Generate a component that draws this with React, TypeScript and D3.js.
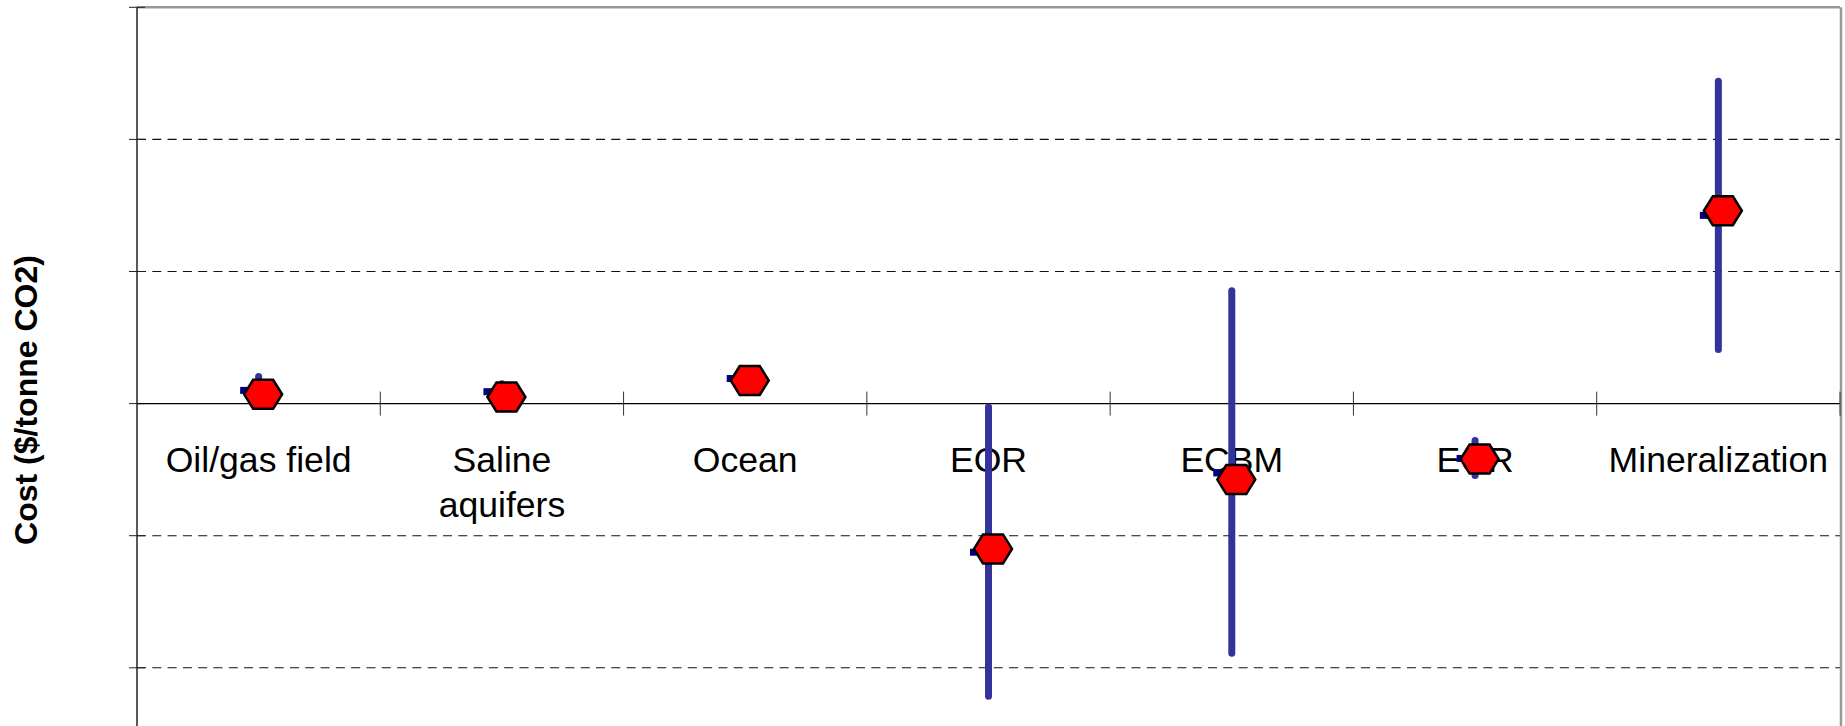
import React from 'react';
import * as d3 from 'd3';

// categories along the zero line
const categories = ['Oil/gas field', 'Saline\naquifers', 'Ocean', 'EOR', 'ECBM', 'EGR', 'Mineralization'];
// range ends of each option (error bar)
const highValues = [4.1, 3.0, 3.9, -0.5, 17.1, -5.6, 48.8];
const lowValues = [0.5, 0.4, 3.2, -44.3, -37.8, -10.9, 8.2];
// hexagon marker value
const midValues = [1.4, 1.0, 3.5, -22.0, -11.5, -8.4, 29.2];
// small dash value drawn left of the marker
const dashValues = [2.0, 1.8, 3.8, -22.5, -10.5, -8.3, 28.5];
// y gridlines (no labels shown)
const yTicks = [-60, -40, -20, 0, 20, 40, 60];

const W = 1845;
const H = 810;
const FONT = '"Liberation Sans", Arial, Helvetica, sans-serif';

export default function App() {
  const x = d3.scaleBand<string>().domain(categories).range([137, 1840]).padding(0);
  const y = d3.scaleLinear().domain([-60, 60]).range([799.9, 7.3]);
  const x0 = 137;
  const x1 = 1840;
  const y0 = y(0);

  const hex = (cx: number, cy: number) => {
    const hw = 19, tw = 10, hh = 14.5;
    return `M${cx - hw},${cy}L${cx - tw},${cy - hh}L${cx + tw},${cy - hh}L${cx + hw},${cy}L${cx + tw},${cy + hh}L${cx - tw},${cy + hh}Z`;
  };

  const boundaries = categories.map((c) => x(c)!).concat([x1]);

  return (
    <svg width={W} height={H} style={{ position: 'absolute', left: 0, top: 0, background: '#fff' }}>
      {/* gridlines */}
      {yTicks.filter((t) => t !== 0 && t !== 60).map((t) => (
        <line key={t} x1={x0} x2={x1} y1={y(t)} y2={y(t)} stroke="#111" strokeWidth={1.1} strokeDasharray="9,6.3" />
      ))}
      {/* top and right border */}
      <line x1={x0} x2={x1} y1={y(60)} y2={y(60)} stroke="#999" strokeWidth={2.5} />
      <line x1={x1 + 1} x2={x1 + 1} y1={y(60)} y2={H} stroke="#999" strokeWidth={2.5} />
      {/* y axis */}
      <line x1={x0} x2={x0} y1={y(60)} y2={H} stroke="#222" strokeWidth={1.5} />
      {yTicks.map((t) => (
        <line key={'yt' + t} x1={x0 - 8} x2={x0 + 8} y1={y(t)} y2={y(t)} stroke="#222" strokeWidth={1} />
      ))}
      {/* zero line + category ticks */}
      <line x1={x0} x2={x1} y1={y0} y2={y0} stroke="#000" strokeWidth={1.2} />
      {boundaries.slice(1).map((bx, i) => (
        <line key={'xt' + i} x1={bx} x2={bx} y1={y0 - 12} y2={y0 + 12} stroke="#333" strokeWidth={1} />
      ))}
      {/* category labels */}
      {categories.map((c) => {
        const lines = c.split('\n');
        const cx = x(c)! + x.bandwidth() / 2;
        return (
          <text key={c} x={cx} y={472} textAnchor="middle" fontFamily={FONT} fontSize={35.6} fill="#000">
            {lines.map((l, i) => (
              <tspan key={i} x={cx} dy={i === 0 ? 0 : 45}>{l}</tspan>
            ))}
          </text>
        );
      })}
      {/* range bars */}
      {categories.map((c, i) => {
        const cx = x(c)! + x.bandwidth() / 2;
        return (
          <line key={'bar' + c} x1={cx} x2={cx} y1={y(highValues[i])} y2={y(lowValues[i])}
            stroke="#333399" strokeWidth={7} strokeLinecap="round" />
        );
      })}
      {/* dash marks */}
      {categories.map((c, i) => {
        const cx = x(c)! + x.bandwidth() / 2;
        return (
          <rect key={'dash' + c} x={cx - 18.5} y={y(dashValues[i]) - 3.5} width={14} height={7} fill="#000080" />
        );
      })}
      {/* hexagon markers */}
      {categories.map((c, i) => {
        const cx = x(c)! + x.bandwidth() / 2 + 4.5;
        return (
          <path key={'hex' + c} d={hex(cx, y(midValues[i]))} fill="#ff0000" stroke="#000" strokeWidth={2.5} strokeLinejoin="miter" />
        );
      })}
      {/* y axis title */}
      <text transform="translate(37,400) rotate(-90)" textAnchor="middle" fontFamily={FONT} fontSize={32} fontWeight="bold" fill="#000">
        Cost ($/tonne CO2)
      </text>
    </svg>
  );
}
